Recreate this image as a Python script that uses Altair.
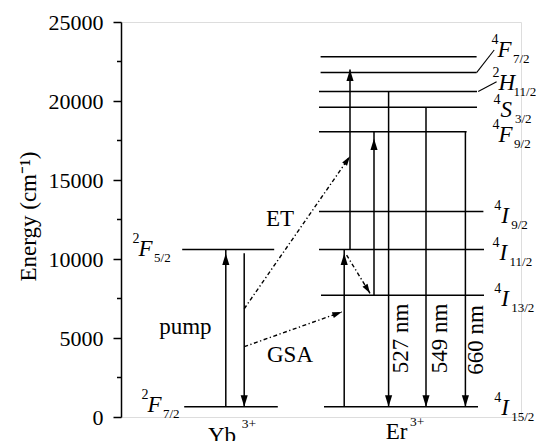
import math
import altair as alt
import pandas as pd

# ---------------- data ----------------
# energy levels (cm^-1) and their horizontal extent (diagram units 0-100)
yb_level_energy = [650, 10600]
yb_level_x0 = [15.8, 15.3]
yb_level_x1 = [39.2, 38.3]

er_level_energy = [650, 7700, 10600, 13000, 18050, 19600, 20600, 21800, 22800]
er_level_x0 = [50.75, 50.0, 49.5, 49.5, 49.5, 49.5, 49.5, 49.9, 49.9]
er_level_x1 = [89.25, 90.75, 90.75, 90.6, 86.4, 89.0, 89.0, 88.9, 88.9]

# vertical solid transitions (shaft from -> to, arrow tip)
trans_x = [26.2, 30.8, 55.8, 57.25, 63.25, 66.9, 76.25, 86.1]
trans_from = [650, 10360, 650, 10600, 7700, 20600, 19600, 18050]
trans_to = [10600, 650, 10600, 22000, 18050, 650, 650, 650]
trans_tip = [10350, 650, 10350, 22000, 17630, 650, 650, 650]
trans_dir = ["up", "down", "up", "up", "up", "down", "down", "down"]

# dash-dot arrows: ET, GSA, relaxation
dash_x0 = [30.8, 30.8, 56.4]
dash_e0 = [6850, 4450, 10250]
dash_x1 = [57.25, 55.2, 62.25]
dash_e1 = [16500, 6650, 7830]

# leader lines to labels
lead_x0 = [88.9, 89.3]
lead_e0 = [21800, 20600]
lead_x1 = [93.3, 93.9]
lead_e1 = [23230, 21220]

# level labels (term symbols)
lab_sup = ["4", "2", "4", "4", "4", "4", "4", "4", "2", "2"]
lab_main = ["F", "H", "S", "F", "I", "I", "I", "I", "F", "F"]
lab_sub = ["7/2", "11/2", "3/2", "9/2", "9/2", "11/2", "13/2", "15/2", "5/2", "7/2"]
lab_energy = [23230, 21140, 19460, 17850, 12740, 10410, 7470, 570, 10630, 730]
lab_x = [92.6, 92.9, 93.1, 92.9, 93.3, 92.9, 93.3, 93.3, 2.9, 5.1]

# plain annotations
txt = ["ET", "pump", "GSA", "Yb", "Er"]
txt_x = [39.75, 16.1, 42.25, 25.25, 68.9]
txt_e = [12090, 5250, 3500, -1650, -1400]

ion_sup = ["3+", "3+"]
ion_sup_x = [30.2, 72.25]
ion_sup_e = [-700, -570]

wl = ["527 nm", "549 nm", "660 nm"]
wl_x = [71.75, 81.4, 90.6]
wl_e = [4980, 4980, 4870]

major_ticks = [0, 5000, 10000, 15000, 20000, 25000]
minor_ticks = [2500, 7500, 12500, 17500, 22500]

# ---------------- layout ----------------
W, H = 400, 395
XMAX, YMAX = 100, 25000
PX_X, PX_Y = W / XMAX, H / YMAX
FONT = "Liberation Serif"

xs = alt.Scale(domain=[0, XMAX], nice=False, zero=False)
ys = alt.Scale(domain=[0, YMAX], nice=False, zero=False)

y_axis = alt.Axis(
    values=major_ticks, format="d", title="Energy (cm⁻¹)", grid=False,
    titleFont=FONT, titleFontSize=23, titleFontWeight="normal", titleColor="black",
    titleAngle=270, titleX=-86, titleY=194, titleBaseline="alphabetic", titleAlign="center",
    labelFont=FONT, labelFontSize=22, labelColor="black", labelPadding=10, labelFlush=False,
    tickColor="black", tickSize=8, tickWidth=1.5, domainColor="black", domainWidth=1.5,
)


def X(f):
    return alt.X(f, type="quantitative", scale=xs, axis=None)


def Y(f):
    return alt.Y(f, type="quantitative", scale=ys, axis=y_axis)


levels = pd.DataFrame({
    "x0": yb_level_x0 + er_level_x0,
    "x1": yb_level_x1 + er_level_x1,
    "e": yb_level_energy + er_level_energy,
})
lev = alt.Chart(levels).mark_rule(color="black", strokeWidth=1.5).encode(
    x=X("x0"), x2="x1", y=Y("e"))

minor = alt.Chart(pd.DataFrame({"e": minor_ticks})).mark_rule(
    color="black", strokeWidth=1.5).encode(
    x=alt.value(-4), x2=alt.value(0), y=Y("e"))

trans = pd.DataFrame({"x": trans_x, "e": trans_from, "e2": trans_to})
shafts = alt.Chart(trans).mark_rule(color="black", strokeWidth=1.5).encode(
    x=X("x"), y=Y("e"), y2="e2")

HEAD = "M0,0L-0.31,1L0.31,1Z"
tips = pd.DataFrame({
    "x": trans_x, "e": trans_tip,
    "ang": [0 if d == "up" else 180 for d in trans_dir],
})
heads = alt.Chart(tips).mark_point(
    shape=HEAD, filled=True, color="black", opacity=1, strokeWidth=0,
    size=(2 * 11.5) ** 2).encode(
    x=X("x"), y=Y("e"), angle=alt.Angle("ang:Q", scale=None))

dashes = pd.DataFrame({"x": dash_x0, "e": dash_e0, "x2": dash_x1, "e2": dash_e1})
dash_lines = alt.Chart(dashes).mark_rule(
    color="black", strokeWidth=1.4, strokeDash=[4, 2.5, 1.3, 2.5]).encode(
    x=X("x"), y=Y("e"), x2="x2", y2="e2")

dang = []
for a, b, c, d in zip(dash_x0, dash_e0, dash_x1, dash_e1):
    dxp = (c - a) * PX_X
    dyp = -(d - b) * PX_Y
    dang.append((math.degrees(math.atan2(dxp, -dyp)) + 360) % 360)
dtips = pd.DataFrame({"x": dash_x1, "e": dash_e1, "ang": dang})
dheads = alt.Chart(dtips).mark_point(
    shape=HEAD, filled=True, color="black", opacity=1, strokeWidth=0,
    size=(2 * 9.5) ** 2).encode(
    x=X("x"), y=Y("e"), angle=alt.Angle("ang:Q", scale=None))

leads = pd.DataFrame({"x": lead_x0, "e": lead_e0, "x2": lead_x1, "e2": lead_e1})
lead_lines = alt.Chart(leads).mark_rule(color="black", strokeWidth=1.1).encode(
    x=X("x"), y=Y("e"), x2="x2", y2="e2")

# term symbol labels
main_off = {"F": 6, "H": 6, "S": 7, "I": 7}
sub_off = {"F": 15.5, "H": 15, "S": 14.5, "I": 10}
lab = pd.DataFrame({
    "sup": lab_sup, "main": lab_main, "sub": lab_sub, "e": lab_energy,
    "xs": lab_x,
})
lab["xm"] = [x + main_off[m] / PX_X for x, m in zip(lab_x, lab_main)]
lab["xb"] = [xm + sub_off[m] / PX_X for xm, m in zip(lab["xm"], lab_main)]

lab_main_t = alt.Chart(lab).mark_text(
    font=FONT, fontSize=23, fontStyle="italic", align="left", baseline="middle",
    color="black").encode(x=X("xm"), y=Y("e"), text="main:N")
lab_sup_t = alt.Chart(lab).mark_text(
    font=FONT, fontSize=14, align="left", baseline="middle", dy=-10,
    color="black").encode(x=X("xs"), y=Y("e"), text="sup:N")
lab_sub_t = alt.Chart(lab).mark_text(
    font=FONT, fontSize=13, align="left", baseline="middle", dy=9,
    color="black").encode(x=X("xb"), y=Y("e"), text="sub:N")

plain = pd.DataFrame({"t": txt, "x": txt_x, "e": txt_e})
plain_t = alt.Chart(plain).mark_text(
    font=FONT, fontSize=23, align="center", baseline="alphabetic",
    color="black").encode(x=X("x"), y=Y("e"), text="t:N")

ions = pd.DataFrame({"t": ion_sup, "x": ion_sup_x, "e": ion_sup_e})
ions_t = alt.Chart(ions).mark_text(
    font=FONT, fontSize=13.5, align="left", baseline="alphabetic",
    color="black").encode(x=X("x"), y=Y("e"), text="t:N")

wls = pd.DataFrame({"t": wl, "x": wl_x, "e": wl_e})
wl_t = alt.Chart(wls).mark_text(
    font=FONT, fontSize=23, align="center", baseline="alphabetic", angle=270,
    color="black").encode(x=X("x"), y=Y("e"), text="t:N")

chart = alt.layer(
    lev, minor, shafts, heads, dash_lines, dheads, lead_lines,
    lab_main_t, lab_sup_t, lab_sub_t, plain_t, ions_t, wl_t,
).properties(
    width=W, height=H,
    padding={"left": 113, "top": 14, "right": 15, "bottom": 24},
    autosize=alt.AutoSizeParams(type="none"),
).configure_view(stroke=None).configure(background="white")

chart.save("out.html", embed_options={"renderer": "svg", "actions": False})
